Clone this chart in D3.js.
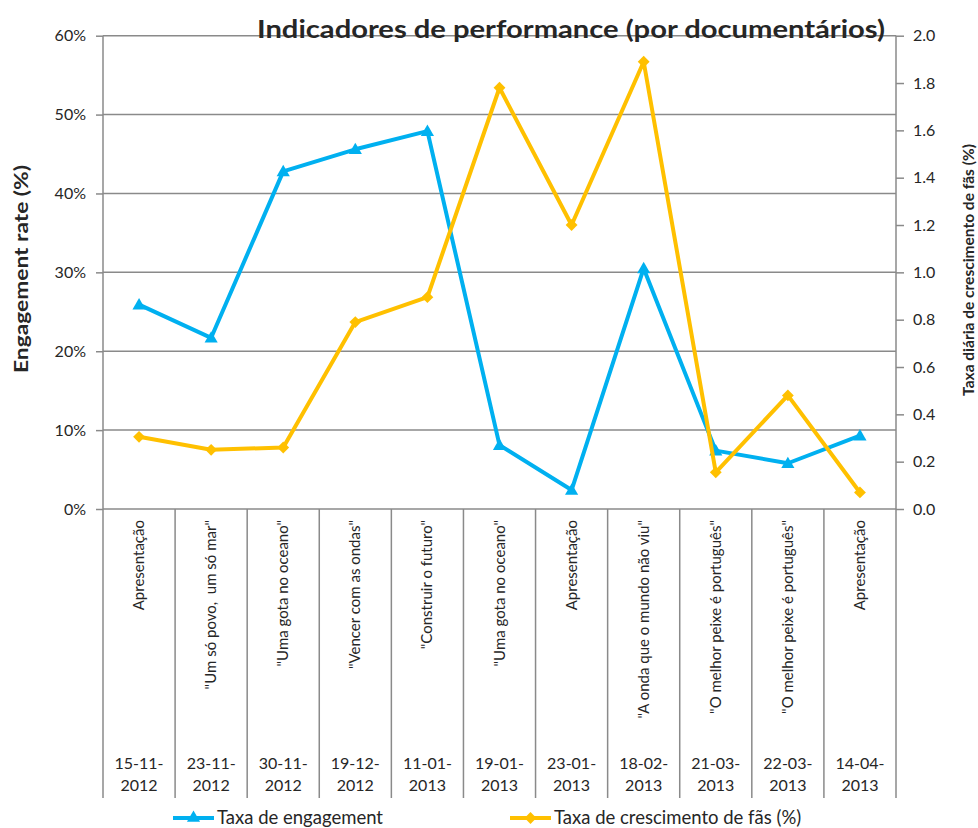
<!DOCTYPE html>
<html>
<head>
<meta charset="utf-8">
<script src="https://cdn.jsdelivr.net/npm/d3@7"></script>
<style>
  body { margin: 0; background: #fff; }
  svg text { font-family: Lato, "Open Sans", sans-serif; fill: #262626; }
</style>
</head>
<body>
<div id="chart"></div>
<script>
// chart data
var titulos = ['Apresentação', '"Um só povo,  um só mar"', '"Uma gota no oceano"', '"Vencer com as ondas"',
  '"Construir o futuro"', '"Uma gota no oceano"', 'Apresentação', '"A onda que o mundo não viu"',
  '"O melhor peixe é português"', '"O melhor peixe é português"', 'Apresentação'];
var datas = ['15-11-2012', '23-11-2012', '30-11-2012', '19-12-2012', '11-01-2013', '19-01-2013',
  '23-01-2013', '18-02-2013', '21-03-2013', '22-03-2013', '14-04-2013'];
var engagement = [25.9, 21.7, 42.8, 45.6, 47.9, 8.1, 2.4, 30.5, 7.4, 5.8, 9.3];
var crescimentoFas = [0.305, 0.25, 0.26, 0.79, 0.895, 1.78, 1.2, 1.89, 0.155, 0.48, 0.07];
var leftTicks = [0, 10, 20, 30, 40, 50, 60];
var rightTicks = [0, 0.2, 0.4, 0.6, 0.8, 1.0, 1.2, 1.4, 1.6, 1.8, 2.0];

var W = 978, H = 828;
//plot box (window.top is taken, so own names)
var pLeft = 103, pRight = 896, pTop = 35.7, pBottom = 509, catBottom = 798;
var azul = '#00B0F0', laranja = '#FFC000', grelha = '#8a8a8a';

var svg = d3.select('#chart').append('svg')
  .attr('width', W)
  .attr('height', H);

var x = d3.scaleBand()
  .domain(d3.range(titulos.length))
  .range([pLeft, pRight]);

var yL = d3.scaleLinear().domain([0, 60]).range([pBottom, pTop]);
var yR = d3.scaleLinear().domain([0, 2]).range([pBottom, pTop]);

//gridlines (only from the left axis)
svg.append('g')
  .selectAll('line')
  .data(leftTicks.slice(1))
  .enter()
  .append('line')
  .attr('x1', pLeft)
  .attr('x2', pRight)
  .attr('y1', function (d) { return yL(d); })
  .attr('y2', function (d) { return yL(d); })
  .attr('stroke', grelha)
  .attr('stroke-width', 1.5);

//left axis
var axisL = d3.axisLeft(yL)
  .tickValues(leftTicks)
  .tickFormat(function (d) { return d + '%'; })
  .tickSize(7)
  .tickPadding(10);
var gL = svg.append('g')
  .attr('transform', 'translate(' + pLeft + ',0)')
  .call(axisL);
gL.select('.domain').remove();
gL.selectAll('line').attr('stroke', grelha).attr('stroke-width', 1.5);
gL.selectAll('text').style('font-size', '16px').attr('fill', '#262626');

//right axis
var axisR = d3.axisRight(yR)
  .tickValues(rightTicks)
  .tickFormat(d3.format('.1f'))
  .tickSize(8)
  .tickPadding(9);
var gR = svg.append('g')
  .attr('transform', 'translate(' + pRight + ',0)')
  .call(axisR);
gR.select('.domain').remove();
gR.selectAll('line').attr('stroke', grelha).attr('stroke-width', 1.5);
gR.selectAll('text').style('font-size', '16px').attr('fill', '#262626');

//vertical axis lines, going down through the category table
svg.append('line')
  .attr('x1', pLeft).attr('x2', pLeft)
  .attr('y1', pTop).attr('y2', catBottom)
  .attr('stroke', grelha).attr('stroke-width', 1.5);
svg.append('line')
  .attr('x1', pRight).attr('x2', pRight)
  .attr('y1', pTop).attr('y2', catBottom)
  .attr('stroke', grelha).attr('stroke-width', 1.5);
svg.append('line')
  .attr('x1', pLeft).attr('x2', pRight)
  .attr('y1', pBottom).attr('y2', pBottom)
  .attr('stroke', grelha).attr('stroke-width', 1.5);

//category separators
svg.append('g')
  .selectAll('line')
  .data(d3.range(1, titulos.length))
  .enter()
  .append('line')
  .attr('x1', function (d) { return x(d); })
  .attr('x2', function (d) { return x(d); })
  .attr('y1', pBottom)
  .attr('y2', catBottom)
  .attr('stroke', grelha)
  .attr('stroke-width', 1.5);

//documentary titles (rotated)
svg.append('g')
  .selectAll('text')
  .data(titulos)
  .enter()
  .append('text')
  .attr('transform', function (d, i) {
    return 'translate(' + (x(i) + x.bandwidth() / 2 + 5) + ',' + (pBottom + 11) + ') rotate(-90)';
  })
  .attr('text-anchor', 'end')
  .style('font-size', '15px')
  .style('white-space', 'pre')
  .text(function (d) { return d; });

//dates, split in two lines
var dt = svg.append('g')
  .selectAll('text')
  .data(datas)
  .enter()
  .append('text')
  .attr('text-anchor', 'middle')
  .style('font-size', '16px');
dt.append('tspan')
  .attr('x', function (d, i) { return x(i) + x.bandwidth() / 2; })
  .attr('y', 769)
  .text(function (d) { return d.slice(0, 6); });
dt.append('tspan')
  .attr('x', function (d, i) { return x(i) + x.bandwidth() / 2; })
  .attr('y', 791)
  .text(function (d) { return d.slice(6); });

var cx = function (i) { return x(i) + x.bandwidth() / 2; };

var lineL = d3.line()
  .x(function (d, i) { return cx(i); })
  .y(function (d) { return yL(d); });
var lineR = d3.line()
  .x(function (d, i) { return cx(i); })
  .y(function (d) { return yR(d); });

var triangulo = d3.symbol().type(d3.symbolTriangle).size(75);
var diamante = d3.symbol().type(d3.symbolSquare).size(70);

//engagement series
svg.append('path')
  .datum(engagement)
  .attr('d', lineL)
  .attr('fill', 'none')
  .attr('stroke', azul)
  .attr('stroke-width', 4)
  .attr('stroke-linejoin', 'round');
svg.append('g')
  .selectAll('path')
  .data(engagement)
  .enter()
  .append('path')
  .attr('d', triangulo)
  .attr('transform', function (d, i) { return 'translate(' + cx(i) + ',' + (yL(d) + 1) + ')'; })
  .attr('fill', azul);

//fans growth series
svg.append('path')
  .datum(crescimentoFas)
  .attr('d', lineR)
  .attr('fill', 'none')
  .attr('stroke', laranja)
  .attr('stroke-width', 4)
  .attr('stroke-linejoin', 'round');
svg.append('g')
  .selectAll('path')
  .data(crescimentoFas)
  .enter()
  .append('path')
  .attr('d', diamante)
  .attr('transform', function (d, i) { return 'translate(' + cx(i) + ',' + yR(d) + ') rotate(45)'; })
  .attr('fill', laranja);

//title
svg.append('text')
  .attr('x', 257)
  .attr('y', 38)
  .attr('textLength', 628)
  .attr('lengthAdjust', 'spacingAndGlyphs')
  .style('font-size', '25px')
  .style('font-weight', 'bold')
  .attr('fill', '#000')
  .text('Indicadores de performance (por documentários)');

//axis titles
svg.append('text')
  .attr('transform', 'translate(28,269) rotate(-90)')
  .attr('text-anchor', 'middle')
  .attr('textLength', 208)
  .attr('lengthAdjust', 'spacingAndGlyphs')
  .style('font-size', '19px')
  .style('font-weight', 'bold')
  .attr('fill', '#000')
  .text('Engagement rate (%)');
svg.append('text')
  .attr('transform', 'translate(974,270) rotate(-90)')
  .attr('text-anchor', 'middle')
  .style('font-size', '15.5px')
  .style('font-weight', 'bold')
  .attr('fill', '#000')
  .text('Taxa diária de crescimento de fãs (%)');

//legend
var leg = [
  { nome: 'Taxa de engagement', cor: azul, simbolo: triangulo, x: 173, rot: 0 },
  { nome: 'Taxa de crescimento de fãs (%)', cor: laranja, simbolo: diamante, x: 510, rot: 45 }
];
var lg = svg.append('g')
  .selectAll('g')
  .data(leg)
  .enter()
  .append('g')
  .attr('transform', function (d) { return 'translate(' + d.x + ',818)'; });
lg.append('line')
  .attr('x1', 0).attr('x2', 41)
  .attr('y1', 0).attr('y2', 0)
  .attr('stroke', function (d) { return d.cor; })
  .attr('stroke-width', 4);
lg.append('path')
  .attr('d', function (d) { return d.simbolo(); })
  .attr('transform', function (d) { return 'translate(20.5,0) rotate(' + d.rot + ')'; })
  .attr('fill', function (d) { return d.cor; });
lg.append('text')
  .attr('x', 44)
  .attr('y', 6)
  .style('font-size', '18.5px')
  .text(function (d) { return d.nome; });
</script>
</body>
</html>
